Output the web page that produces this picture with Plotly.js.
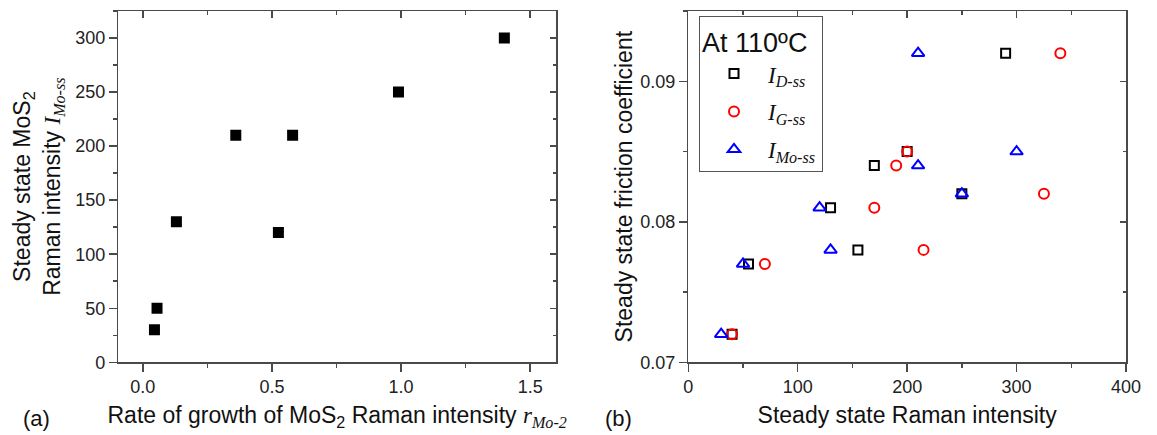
<!DOCTYPE html>
<html>
<head>
<meta charset="utf-8">
<script src="https://cdn.plot.ly/plotly-3.0.1.min.js"></script>
<style>html,body{margin:0;padding:0;background:#fff;}#chart{width:1157px;height:435px;}</style>
</head>
<body>
<div id="chart"></div>
<script>
// Panel (a): rate of growth of MoS2 Raman intensity vs steady state MoS2 intensity
var rateMo2 = [0.045, 0.055, 0.13, 0.36, 0.58, 0.525, 0.99, 1.40];
var intensityMoSS = [30, 50, 130, 210, 210, 120, 250, 300];

// Panel (b): steady state Raman intensity vs steady state friction coefficient (At 110 ºC)
var dIntensity = [40, 55, 130, 155, 170, 200, 250, 290];
var dFriction  = [0.072, 0.077, 0.081, 0.078, 0.084, 0.085, 0.082, 0.092];
var gIntensity = [40, 70, 170, 190, 200, 215, 325, 340];
var gFriction  = [0.072, 0.077, 0.081, 0.084, 0.085, 0.078, 0.082, 0.092];
var moIntensity = [30, 50, 120, 130, 210, 210, 250, 300];
var moFriction  = [0.072, 0.077, 0.081, 0.078, 0.092, 0.084, 0.082, 0.085];

var seriesNames = [
  "<i>I</i><sub><i>D-ss</i></sub>",
  "<i>I</i><sub><i>G-ss</i></sub>",
  "<i>I</i><sub><i>Mo-ss</i></sub>"
];

var SANS = "Arial, 'Liberation Sans', sans-serif";
var SERIF = "'Times New Roman', 'Liberation Serif', serif";
var AX = "#4a4a4a";
var TITLE_SIZE = 23;

var traces = [
  {x: rateMo2, y: intensityMoSS, xaxis: "x", yaxis: "y", type: "scatter", mode: "markers",
   showlegend: false, marker: {symbol: "square", size: 11, color: "#000", line: {width: 0}}},
  {x: dIntensity, y: dFriction, xaxis: "x2", yaxis: "y2", type: "scatter", mode: "markers",
   name: seriesNames[0], legendgroup: "d",
   marker: {symbol: "square-open", size: 9, color: "#000", line: {width: 2, color: "#000"}}},
  {x: gIntensity, y: gFriction, xaxis: "x2", yaxis: "y2", type: "scatter", mode: "markers",
   name: seriesNames[1], legendgroup: "g",
   marker: {symbol: "circle-open", size: 10, color: "#ff0000", line: {width: 2, color: "#ff0000"}}},
  {x: moIntensity, y: moFriction, xaxis: "x2", yaxis: "y2", type: "scatter", mode: "markers",
   name: seriesNames[2], legendgroup: "mo",
   marker: {symbol: "triangle-up-open", size: 11, color: "#0000ff", line: {width: 2, color: "#0000ff"}}},
  // empty traces that just carry the mirrored top/right tick axes
  {x: [], y: [], xaxis: "x3", yaxis: "y", type: "scatter", mode: "markers", showlegend: false, hoverinfo: "skip"},
  {x: [], y: [], xaxis: "x", yaxis: "y3", type: "scatter", mode: "markers", showlegend: false, hoverinfo: "skip"},
  {x: [], y: [], xaxis: "x4", yaxis: "y2", type: "scatter", mode: "markers", showlegend: false, hoverinfo: "skip"},
  {x: [], y: [], xaxis: "x2", yaxis: "y4", type: "scatter", mode: "markers", showlegend: false, hoverinfo: "skip"}
];

var yDom = [1 - 362.3 / 435, 1 - 11 / 435];
var xDomA = [118.3 / 1157, 556 / 1157];
var xDomB = [688.3 / 1157, 1126 / 1157];
var rangeAx = [-0.095, 1.6], rangeAy = [0, 325];
var rangeBx = [0, 400], rangeBy = [0.07, 0.095];

function mainAxis(extra) {
  var a = {
    showline: true, linecolor: AX, linewidth: 1.5, mirror: true,
    ticks: "outside", ticklen: 8, tickwidth: 1.5, tickcolor: AX,
    showgrid: false, zeroline: false, fixedrange: true,
    tickfont: {family: SANS, size: 18, color: "#222"}
  };
  for (var k in extra) a[k] = extra[k];
  return a;
}
function mirrorAxis(extra) {
  var a = {
    showline: false, ticks: "inside", ticklen: 6.5, tickwidth: 1.5, tickcolor: AX,
    showticklabels: false, showgrid: false, zeroline: false, fixedrange: true
  };
  for (var k in extra) a[k] = extra[k];
  return a;
}
var titleFont = {family: SANS, size: TITLE_SIZE, color: "#111"};

var layout = {
  width: 1157, height: 435,
  margin: {l: 0, r: 0, t: 0, b: 0},
  paper_bgcolor: "#fff", plot_bgcolor: "#fff",
  showlegend: true,
  xaxis: mainAxis({domain: xDomA, anchor: "y", range: rangeAx, tick0: 0, dtick: 0.5, tickformat: ".1f",
    minor: {dtick: 0.25, ticklen: 4, tickcolor: AX, tickwidth: 1.5, ticks: "outside"},
    title: {text: "Rate of growth of MoS<sub>2</sub> Raman intensity <span style=\"font-family:'Liberation Serif',serif\"><i>r</i><sub><i>Mo-2</i></sub></span>",
      font: titleFont, standoff: 10}}),
  yaxis: mainAxis({domain: yDom, anchor: "x", range: rangeAy, tick0: 0, dtick: 50,
    minor: {dtick: 25, ticklen: 4, tickcolor: AX, tickwidth: 1.5, ticks: "outside"},
    title: {text: "Steady state MoS<sub>2</sub><br>Raman intensity <span style=\"font-family:'Liberation Serif',serif\"><i>I</i><sub><i>Mo-ss</i></sub></span>",
      font: titleFont, standoff: 8}}),
  xaxis3: mirrorAxis({overlaying: "x", side: "top", anchor: "y", range: rangeAx, tick0: 0, dtick: 0.5,
    minor: {dtick: 0.25, ticklen: 4, tickcolor: AX, tickwidth: 1.5, ticks: "inside"}}),
  yaxis3: mirrorAxis({overlaying: "y", side: "right", anchor: "x", range: rangeAy, tick0: 0, dtick: 50,
    minor: {dtick: 25, ticklen: 3.5, tickcolor: AX, tickwidth: 1.5, ticks: "inside"}}),

  xaxis2: mainAxis({domain: xDomB, anchor: "y2", range: rangeBx, tick0: 0, dtick: 100,
    minor: {dtick: 50, ticklen: 4, tickcolor: AX, tickwidth: 1.5, ticks: "outside"},
    title: {text: "Steady state Raman intensity", font: titleFont, standoff: 10}}),
  yaxis2: mainAxis({domain: yDom, anchor: "x2", range: rangeBy, tick0: 0.07, dtick: 0.01, tickformat: ".2f",
    minor: {dtick: 0.005, ticklen: 4, tickcolor: AX, tickwidth: 1.5, ticks: "outside"},
    title: {text: "Steady state friction coefficient", font: titleFont, standoff: 1}}),
  xaxis4: mirrorAxis({overlaying: "x2", side: "top", anchor: "y2", range: rangeBx, tick0: 0, dtick: 100,
    minor: {dtick: 50, ticklen: 4, tickcolor: AX, tickwidth: 1.5, ticks: "inside"}}),
  yaxis4: mirrorAxis({overlaying: "y2", side: "right", anchor: "x2", range: rangeBy, tick0: 0.07, dtick: 0.01,
    minor: {dtick: 0.005, ticklen: 3.5, tickcolor: AX, tickwidth: 1.5, ticks: "inside"}}),

  legend: {
    x: 699 / 1157, y: 1 - 16 / 435, xanchor: "left", yanchor: "top",
    bgcolor: "#fff", bordercolor: "#555", borderwidth: 1,
    traceorder: "grouped", tracegroupgap: 5, itemwidth: 58,
    font: {family: SERIF, size: 23, color: "#111", style: "italic"},
    title: {text: "At 110ºC", side: "top", font: {family: SANS, size: 27, color: "#111", style: "normal"}}
  },
  annotations: [
    {text: "(a)", x: 36 / 1157, y: 1 - 418 / 435, xref: "paper", yref: "paper", xanchor: "center", yanchor: "middle",
     showarrow: false, font: {family: SANS, size: 22, color: "#111"}},
    {text: "(b)", x: 618.5 / 1157, y: 1 - 418 / 435, xref: "paper", yref: "paper", xanchor: "center", yanchor: "middle",
     showarrow: false, font: {family: SANS, size: 22, color: "#111"}}
  ]
};

Plotly.newPlot("chart", traces, layout, {staticPlot: true, displayModeBar: false});
</script>
</body>
</html>
